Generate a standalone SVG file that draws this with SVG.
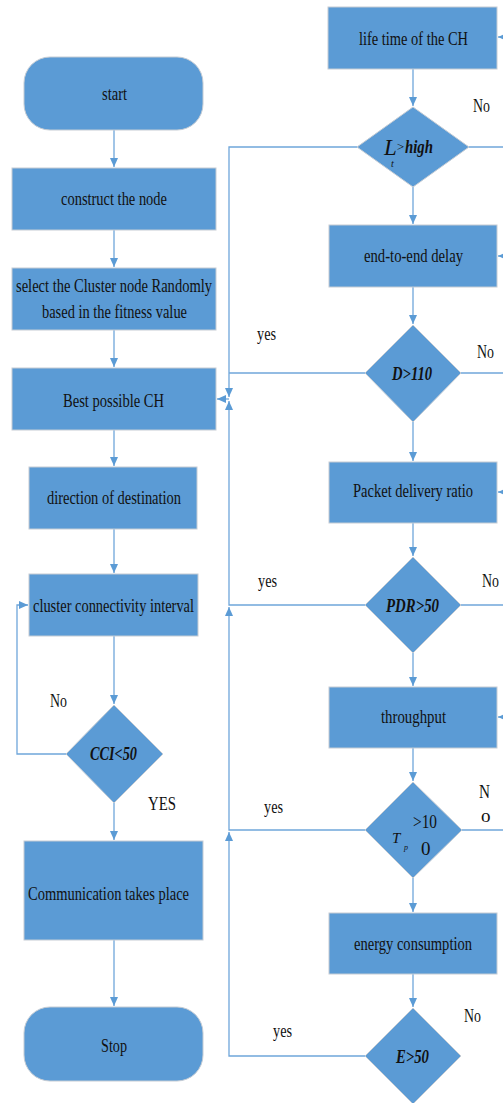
<svg xmlns="http://www.w3.org/2000/svg" width="503" height="1103" viewBox="0 0 503 1103">
  <style>
    .box { fill: #5b9bd5; stroke: #c5ccd4; stroke-width: 1; }
    .t { font-family: "Liberation Serif", "Times New Roman", serif; font-size: 19px; fill: #111; }
    .bi { font-family: "Liberation Serif", "Times New Roman", serif; font-size: 19px; font-weight: bold; font-style: italic; fill: #111; }
    .it { font-family: "Liberation Serif", "Times New Roman", serif; font-style: italic; fill: #111; }
    .mid { text-anchor: middle; }
    .ln { fill: none; stroke: #6fa6da; stroke-width: 1.3; }
  </style>
  <defs>
    <marker id="ah" markerUnits="userSpaceOnUse" markerWidth="10" markerHeight="10" viewBox="0 0 10 10" refX="9" refY="5" orient="auto">
      <path d="M0,1 L9,5 L0,9 z" fill="#5b9bd5"/>
    </marker>
  </defs>

  <rect width="503" height="1103" fill="#ffffff"/>

  <!-- connectors -->
  <g id="connectors">
    <!-- left column flow -->
    <path class="ln" d="M114,130 V167" marker-end="url(#ah)"/>
    <path class="ln" d="M114,230 V267" marker-end="url(#ah)"/>
    <path class="ln" d="M114,330 V367" marker-end="url(#ah)"/>
    <path class="ln" d="M114,430 V466" marker-end="url(#ah)"/>
    <path class="ln" d="M114,529 V573" marker-end="url(#ah)"/>
    <path class="ln" d="M114,636 V704" marker-end="url(#ah)"/>
    <path class="ln" d="M114,803 V840" marker-end="url(#ah)"/>
    <path class="ln" d="M114,940 V1006" marker-end="url(#ah)"/>
    <!-- CCI loop back -->
    <path class="ln" d="M66,754 H17 V605 H28" marker-end="url(#ah)"/>

    <!-- right column flow -->
    <path class="ln" d="M413,69 V106" marker-end="url(#ah)"/>
    <path class="ln" d="M413,187 V224" marker-end="url(#ah)"/>
    <path class="ln" d="M413,287 V324" marker-end="url(#ah)"/>
    <path class="ln" d="M413,422 V461" marker-end="url(#ah)"/>
    <path class="ln" d="M413,523 V556" marker-end="url(#ah)"/>
    <path class="ln" d="M413,653 V686" marker-end="url(#ah)"/>
    <path class="ln" d="M413,748 V781" marker-end="url(#ah)"/>
    <path class="ln" d="M413,878 V912" marker-end="url(#ah)"/>
    <path class="ln" d="M413,974 V1007" marker-end="url(#ah)"/>

    <!-- "No" exits to the right -->
    <path class="ln" d="M469,147 H503"/>
    <path class="ln" d="M461,373 H503"/>
    <path class="ln" d="M461,605 H503"/>
    <path class="ln" d="M462,830 H503"/>
    <!-- returns from the right edge -->
    <path class="ln" d="M510,37 H498" marker-end="url(#ah)"/>
    <path class="ln" d="M510,256 H498" marker-end="url(#ah)"/>
    <path class="ln" d="M510,492 H498" marker-end="url(#ah)"/>
    <path class="ln" d="M510,717 H498" marker-end="url(#ah)"/>

    <!-- "yes" returns to Best possible CH -->
    <path class="ln" d="M357,147 H229 V397" marker-end="url(#ah)"/>
    <path class="ln" d="M365,373 H229"/>
    <path class="ln" d="M365,605 H229 V401" marker-end="url(#ah)"/>
    <path class="ln" d="M365,830 H229 V607" marker-end="url(#ah)"/>
    <path class="ln" d="M365,1056 H229 V832" marker-end="url(#ah)"/>
    <path class="ln" d="M229,399 H217" marker-end="url(#ah)"/>
  </g>

  <!-- left column -->
  <g id="start">
    <rect class="box" x="24" y="57" width="179" height="73" rx="26"/>
    <text class="t" x="102" y="100" textLength="25" lengthAdjust="spacingAndGlyphs">start</text>
  </g>
  <g id="construct">
    <rect class="box" x="12" y="168" width="204" height="62"/>
    <text class="t" x="61" y="205" textLength="106" lengthAdjust="spacingAndGlyphs">construct the node</text>
  </g>
  <g id="select">
    <rect class="box" x="12" y="268" width="204" height="62"/>
    <text class="t" x="16" y="292" textLength="196" lengthAdjust="spacingAndGlyphs">select the Cluster node Randomly</text>
    <text class="t" x="42" y="318" textLength="145" lengthAdjust="spacingAndGlyphs">based in the fitness value</text>
  </g>
  <g id="best">
    <rect class="box" x="12" y="368" width="204" height="62"/>
    <text class="t" x="63" y="407" textLength="101" lengthAdjust="spacingAndGlyphs">Best possible CH</text>
  </g>
  <g id="direction">
    <rect class="box" x="29" y="467" width="168" height="62"/>
    <text class="t" x="47" y="504" textLength="134" lengthAdjust="spacingAndGlyphs">direction of destination</text>
  </g>
  <g id="connectivity">
    <rect class="box" x="29" y="574" width="169" height="62"/>
    <text class="t" x="33" y="612" textLength="161" lengthAdjust="spacingAndGlyphs">cluster connectivity interval</text>
  </g>
  <g id="cci">
    <polygon class="box" points="114,705 163,754 114,803 66,754"/>
    <text class="bi" x="90" y="760" textLength="47" lengthAdjust="spacingAndGlyphs">CCI&lt;50</text>
  </g>
  <g id="communication">
    <rect class="box" x="24" y="841" width="179" height="99"/>
    <text class="t" x="28" y="900" textLength="161" lengthAdjust="spacingAndGlyphs">Communication takes place</text>
  </g>
  <g id="stop">
    <rect class="box" x="24" y="1007" width="179" height="74" rx="26"/>
    <text class="t" x="101" y="1052" textLength="26" lengthAdjust="spacingAndGlyphs">Stop</text>
  </g>

  <!-- right column -->
  <g id="lifetime">
    <rect class="box" x="328" y="7" width="169" height="62"/>
    <text class="t" x="359" y="45" textLength="109" lengthAdjust="spacingAndGlyphs">life time of the CH</text>
  </g>
  <g id="lt-high">
    <polygon class="box" points="413,107 469,147 413,187 357,147"/>
    <text class="it" x="384" y="155" font-size="23">L</text>
    <text class="it" x="391" y="167" font-size="10">t</text>
    <text class="it" x="396" y="151" font-size="13">&gt;</text>
    <text class="bi" x="405" y="153" font-size="17" textLength="28" lengthAdjust="spacingAndGlyphs">high</text>
  </g>
  <g id="delay">
    <rect class="box" x="329" y="225" width="168" height="62"/>
    <text class="t" x="364" y="262" textLength="99" lengthAdjust="spacingAndGlyphs">end-to-end delay</text>
  </g>
  <g id="d110">
    <polygon class="box" points="413,325 461,373 413,422 365,373"/>
    <text class="bi" x="392" y="380" textLength="40" lengthAdjust="spacingAndGlyphs">D&gt;110</text>
  </g>
  <g id="pdr-box">
    <rect class="box" x="329" y="462" width="168" height="61"/>
    <text class="t mid" x="413" y="497" font-size="18" textLength="120" lengthAdjust="spacingAndGlyphs">Packet delivery ratio</text>
  </g>
  <g id="pdr50">
    <polygon class="box" points="413,557 461,605 413,653 365,605"/>
    <text class="bi" x="386" y="612" textLength="53" lengthAdjust="spacingAndGlyphs">PDR&gt;50</text>
  </g>
  <g id="throughput">
    <rect class="box" x="329" y="687" width="168" height="61"/>
    <text class="t" x="381" y="723" textLength="65" lengthAdjust="spacingAndGlyphs">throughput</text>
  </g>
  <g id="tp100">
    <polygon class="box" points="413,782 462,830 413,878 365,830"/>
    <text class="t" x="413" y="828" textLength="24" lengthAdjust="spacingAndGlyphs">&gt;10</text>
    <text class="t" x="421" y="855">0</text>
    <text class="it" x="392" y="843" font-size="15">T</text>
    <text class="it" x="404" y="850" font-size="8">p</text>
  </g>
  <g id="energy">
    <rect class="box" x="329" y="913" width="168" height="61"/>
    <text class="t mid" x="413" y="950" font-size="18" textLength="118" lengthAdjust="spacingAndGlyphs">energy consumption</text>
  </g>
  <g id="e50">
    <polygon class="box" points="413,1008 461,1056 413,1104 365,1056"/>
    <text class="bi" x="396" y="1063" textLength="33" lengthAdjust="spacingAndGlyphs">E&gt;50</text>
  </g>

  <!-- branch labels -->
  <g id="labels">
    <text class="t" x="473" y="112" textLength="17" lengthAdjust="spacingAndGlyphs">No</text>
    <text class="t" x="257" y="340" textLength="19" lengthAdjust="spacingAndGlyphs">yes</text>
    <text class="t" x="477" y="358" textLength="17" lengthAdjust="spacingAndGlyphs">No</text>
    <text class="t" x="258" y="587" textLength="19" lengthAdjust="spacingAndGlyphs">yes</text>
    <text class="t" x="482" y="587" textLength="17" lengthAdjust="spacingAndGlyphs">No</text>
    <text class="t" x="264" y="813" textLength="19" lengthAdjust="spacingAndGlyphs">yes</text>
    <text class="t" x="479" y="798" textLength="11" lengthAdjust="spacingAndGlyphs">N</text>
    <text class="t" x="481" y="822" font-size="13">o</text>
    <text class="t" x="273" y="1037" textLength="19" lengthAdjust="spacingAndGlyphs">yes</text>
    <text class="t" x="464" y="1022" textLength="17" lengthAdjust="spacingAndGlyphs">No</text>
    <text class="t" x="50" y="707" textLength="17" lengthAdjust="spacingAndGlyphs">No</text>
    <text class="t" x="148" y="810" textLength="28" lengthAdjust="spacingAndGlyphs">YES</text>
  </g>
</svg>
